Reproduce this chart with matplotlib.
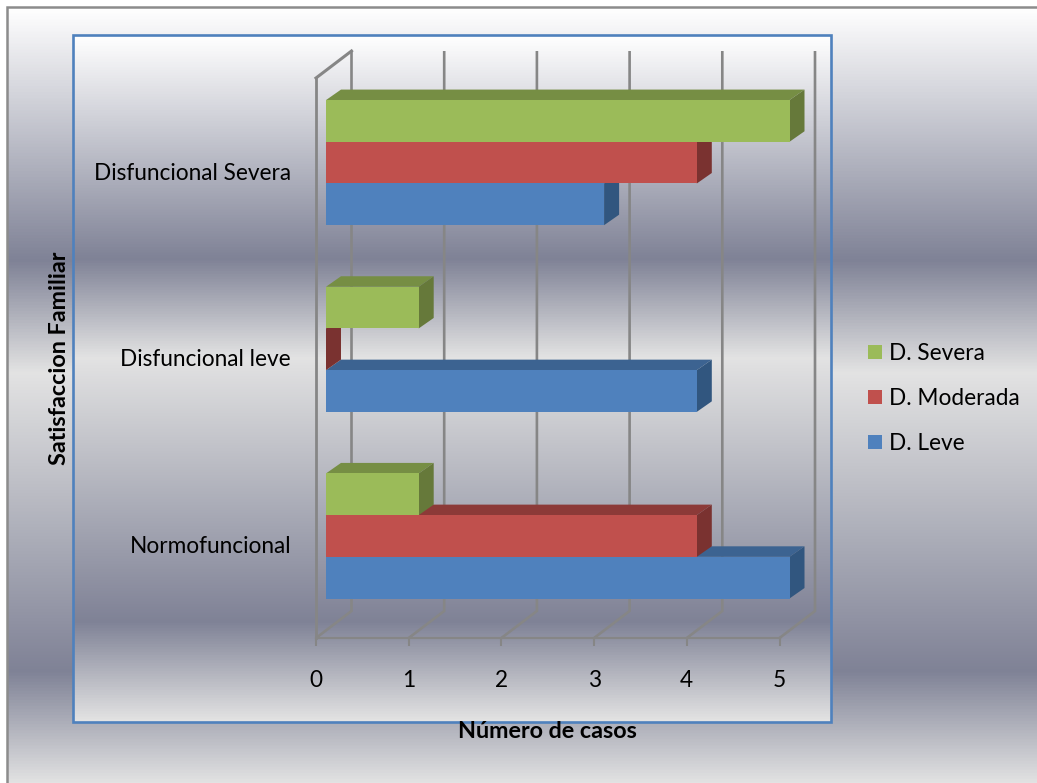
import numpy as np
import matplotlib
matplotlib.use("Agg")
import matplotlib.pyplot as plt
from matplotlib.colors import LinearSegmentedColormap
from matplotlib.patches import Polygon, Patch, Rectangle

plt.rcParams['font.family'] = ['Lato', 'DejaVu Sans']

W, H = 1037, 783

categories = ["Normofuncional", "Disfuncional leve", "Disfuncional Severa"]
series_names = ["D. Leve", "D. Moderada", "D. Severa"]
leve = [5, 4, 3]
moderada = [4, 0, 4]
severa = [1, 1, 5]
series_values = [leve, moderada, severa]
x_ticks = [0, 1, 2, 3, 4, 5]

front_colors = ["#4F81BD", "#C0504D", "#9BBB59"]
top_colors = ["#3C6391", "#8C3A38", "#768E44"]
side_colors = ["#31567F", "#7A3230", "#66793A"]
grid_color = "#868686"
frame_blue = "#4F81BD"
frame_grey = "#8C8C8C"

chrome = LinearSegmentedColormap.from_list(
    "chrome",
    [(0.0, "#FFFFFF"), (0.325, "#7F8296"), (0.47, "#E3E3E3"),
     (0.855, "#7F8296"), (1.0, "#E3E3E3")])

fig = plt.figure(figsize=(W / 100, H / 100), dpi=100, facecolor="white")

# Page-level layer in pixel units: the two gradient panels and their frames
bg = fig.add_axes([0, 0, 1, 1], zorder=0)
bg.set_xlim(0, W)
bg.set_ylim(H, 0)
bg.axis("off")
ramp = np.linspace(0, 1, 512)[:, None]
bg.imshow(ramp, cmap=chrome, extent=(7, W, 785, 7), aspect="auto", zorder=1)
bg.imshow(ramp, cmap=chrome, extent=(73, 831, 722, 35), aspect="auto", zorder=2)
bg.set_xlim(0, W)
bg.set_ylim(H, 0)
bg.plot([7, 7, W], [H, 7, 7], color=frame_grey, lw=1.8, zorder=3,
        solid_joinstyle="miter")
bg.add_patch(Rectangle((73, 35), 758, 687, fill=False, edgecolor=frame_blue,
                       lw=1.9, zorder=4))

# Chart axes: the front plane of the 3-D box
left, right, top, bottom = 316, 779.5, 78, 638
ax = fig.add_axes([left / W, 1 - bottom / H, (right - left) / W, (bottom - top) / H],
                  zorder=1)
ax.patch.set_alpha(0)
ax.set_xlim(0, 5)
ax.set_ylim(-0.5, 2.5)
px_x = 5 / (right - left)
px_y = 3 / (bottom - top)

for side in ("top", "right"):
    ax.spines[side].set_visible(False)
ax.spines["left"].set_color(grid_color)
ax.spines["left"].set_linewidth(2.0)
ax.spines["bottom"].set_color(grid_color)
ax.spines["bottom"].set_linewidth(1.6)

ax.set_xticks(x_ticks)
ax.set_xticklabels([str(t) for t in x_ticks])
ax.tick_params(axis="x", length=5.5, width=1.5, color=grid_color, pad=17.5,
               labelsize=16.3, labelcolor="black")
ax.set_yticks(range(len(categories)))
ax.set_yticklabels(categories, va="center_baseline")
ax.tick_params(axis="y", length=0, pad=18, labelsize=16.3, labelcolor="black")

# Box depth: back wall grid lines and the floor diagonals
wall_dx, wall_dy = 35.5 * px_x, 27 * px_y
for t in x_ticks:
    ax.plot([t, t + wall_dx, t + wall_dx], [-0.5, -0.5 + wall_dy, 2.5 + wall_dy],
            color=grid_color, lw=1.9, clip_on=False, zorder=1,
            solid_joinstyle="miter", solid_capstyle="butt")
ax.plot([0, wall_dx], [2.5, 2.5 + wall_dy], color=grid_color, lw=2.2,
        clip_on=False, zorder=1)

# Clustered 3-D bars, drawn bottom to top so front faces overlap the tops below
bar_dx, bar_dy = 10 * px_x, 8.7 * px_y
depth_x, depth_y = 15 * px_x, 10.5 * px_y
bar_h = 41.7 * px_y

for s, values in enumerate(series_values):
    for c, v in enumerate(values):
        y0 = c + bar_dy + (s - 1.5) * bar_h
        y1 = y0 + bar_h
        x0 = bar_dx
        x1 = bar_dx + v
        top_face = [(x0, y1), (x1, y1), (x1 + depth_x, y1 + depth_y), (x0 + depth_x, y1 + depth_y)]
        side_face = [(x1, y0), (x1 + depth_x, y0 + depth_y), (x1 + depth_x, y1 + depth_y), (x1, y1)]
        z = 3 + s
        ax.add_patch(Polygon(top_face, closed=True, fc=top_colors[s], ec="none",
                             clip_on=False, zorder=z))
        ax.add_patch(Polygon(side_face, closed=True, fc=side_colors[s], ec="none",
                             clip_on=False, zorder=z))
        ax.barh(c + bar_dy + (s - 1) * bar_h, v, height=bar_h, left=bar_dx,
                color=front_colors[s], clip_on=False, zorder=z + 0.1)

# Axis titles sit outside the inner panel, so they go on the page layer
fg = fig.add_axes([0, 0, 1, 1], zorder=2)
fg.set_xlim(0, W)
fg.set_ylim(H, 0)
fg.axis("off")
fg.text(547, 731, "Número de casos", ha="center", va="center", fontsize=16.8,
        fontweight="bold", color="black")
fg.text(60, 358, "Satisfaccion Familiar", ha="center", va="center", rotation=90,
        fontsize=16.8, fontweight="bold", color="black")

handles = [Patch(facecolor=front_colors[i], edgecolor="none", label=series_names[i])
           for i in (2, 1, 0)]
fg.legend(handles=handles, loc="upper left", bbox_to_anchor=(868 / W, 1 - 343 / H),
          bbox_transform=fig.transFigure, frameon=False, fontsize=16.3,
          handlelength=0.61, handleheight=0.61, handletextpad=0.31,
          labelspacing=1.06, borderpad=0, borderaxespad=0)

fig.savefig("out.png", dpi=100, facecolor="white")
